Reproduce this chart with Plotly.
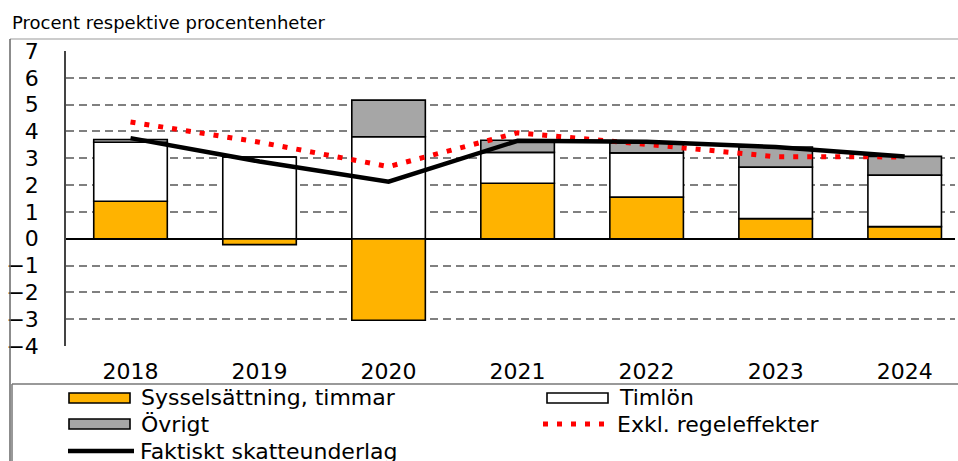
import plotly.graph_objects as go

years = ["2018", "2019", "2020", "2021", "2022", "2023", "2024"]
syssel = [1.40, -0.22, -3.04, 2.07, 1.55, 0.75, 0.45]
timlon = [2.20, 3.05, 3.80, 1.15, 1.65, 1.92, 1.92]
ovrigt = [0.10, 0.00, 1.37, 0.45, 0.37, 0.75, 0.70]
faktiskt = [3.75, 2.88, 2.13, 3.65, 3.62, 3.42, 3.07]
exkl = [4.35, 3.60, 2.69, 3.95, 3.52, 3.06, 3.05]
y_ticks = [-4, -3, -2, -1, 0, 1, 2, 3, 4, 5, 6, 7]

FONT = "DejaVu Sans, Liberation Sans, Arial, sans-serif"
W, H = 958, 461
L, R, T, B = 66, 955, 51, 346

def px(x):
    return (x - L) / (R - L)

def py(y):
    return (B - y) / (B - T)

fig = go.Figure()
bw = 0.57
fig.add_bar(x=years, y=syssel, width=bw, name="Sysselsättning, timmar",
            marker=dict(color="#FFB300", line=dict(color="black", width=1.6)))
fig.add_bar(x=years, y=timlon, width=bw, name="Timlön",
            marker=dict(color="white", line=dict(color="black", width=1.6)))
fig.add_bar(x=years, y=ovrigt, width=bw, name="Övrigt",
            marker=dict(color="#A6A6A6", line=dict(color="black", width=1.6)))
fig.add_scatter(x=years, y=exkl, mode="lines", name="Exkl. regeleffekter",
                line=dict(color="#FF0000", width=5, dash="5px,9px"))
fig.add_scatter(x=years, y=faktiskt, mode="lines", name="Faktiskt skatteunderlag",
                line=dict(color="black", width=4.5))

shapes = []
annotations = []
# outer frame
shapes.append(dict(type="line", xref="paper", yref="paper", x0=px(10), x1=px(960), y0=py(39), y1=py(39),
                   line=dict(color="#BBBBBB", width=1.5)))
shapes.append(dict(type="line", xref="paper", yref="paper", x0=px(10), x1=px(10), y0=py(39), y1=py(470),
                   line=dict(color="#666666", width=1.5)))
# legend frame
shapes.append(dict(type="line", xref="paper", yref="paper", x0=px(12), x1=px(960), y0=py(384), y1=py(384),
                   line=dict(color="#777777", width=1.5)))
shapes.append(dict(type="line", xref="paper", yref="paper", x0=px(12), x1=px(12), y0=py(384), y1=py(470),
                   line=dict(color="#777777", width=1.5)))

legend_items = [
    ("rect", "#FFB300", "Sysselsättning, timmar", 69, 398),
    ("rect", "white", "Timlön", 547, 398),
    ("rect", "#A6A6A6", "Övrigt", 69, 424),
    ("dot", "#FF0000", "Exkl. regeleffekter", 545, 424),
    ("line", "black", "Faktiskt skatteunderlag", 68, 451),
]
for kind, col, label, x0, yc in legend_items:
    if kind == "rect":
        shapes.append(dict(type="rect", xref="paper", yref="paper", x0=px(x0), x1=px(x0 + 61),
                           y0=py(yc - 5), y1=py(yc + 5), fillcolor=col,
                           line=dict(color="black", width=1.6)))
    elif kind == "dot":
        shapes.append(dict(type="line", xref="paper", yref="paper", x0=px(x0 - 2), x1=px(x0 + 64),
                           y0=py(yc), y1=py(yc), line=dict(color=col, width=5, dash="5px,9px")))
    else:
        shapes.append(dict(type="line", xref="paper", yref="paper", x0=px(x0), x1=px(x0 + 66),
                           y0=py(yc), y1=py(yc), line=dict(color=col, width=4.5)))
    annotations.append(dict(xref="paper", yref="paper", x=px(x0 + 70), y=py(yc), text=label,
                            showarrow=False, xanchor="left", yanchor="middle",
                            font=dict(family=FONT, size=22, color="black")))

annotations.append(dict(xref="paper", yref="paper", x=px(10), y=py(22), text="Procent respektive procentenheter",
                        showarrow=False, xanchor="left", yanchor="middle",
                        font=dict(family=FONT, size=18, color="black")))

fig.update_layout(
    width=W, height=H,
    margin=dict(l=L, r=W - R, t=T, b=H - B),
    paper_bgcolor="white", plot_bgcolor="white",
    barmode="relative", showlegend=False,
    shapes=shapes, annotations=annotations,
    font=dict(family=FONT, color="black"),
)
fig.update_xaxes(range=[-0.5, 6.39], showgrid=False, showline=False, zeroline=False, automargin=False,
                 tickfont=dict(size=22, family=FONT, color="black"), ticks="", ticklabelstandoff=10)
fig.update_yaxes(range=[-4, 7], tickvals=y_ticks, showgrid=True, gridcolor="#808080", griddash="8px,5px",
                 gridwidth=1.5, zeroline=True, zerolinecolor="black", zerolinewidth=2, automargin=False,
                 showline=True, linecolor="#444444", linewidth=1.5, ticks="",
                 tickfont=dict(size=22, family=FONT, color="black"), ticklabelstandoff=21)

fig.write_html("out.html", config={"displayModeBar": False},
               post_script="document.body.style.margin='0';document.body.style.padding='0';document.body.style.overflow='hidden';")
